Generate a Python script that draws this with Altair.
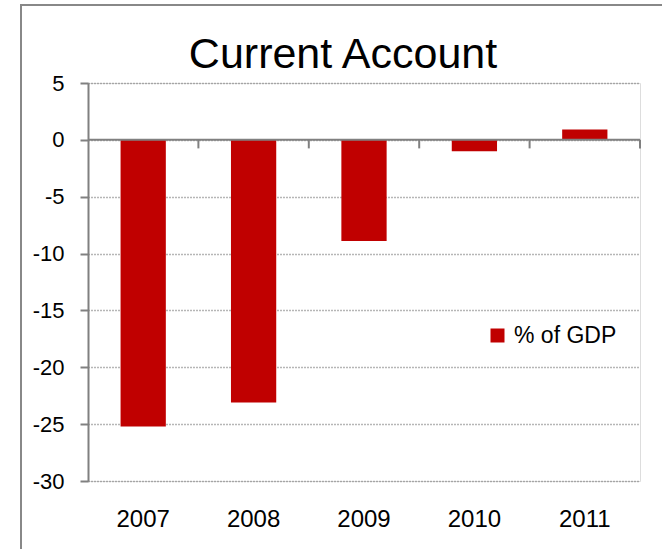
import altair as alt
import pandas as pd

years = ["2007", "2008", "2009", "2010", "2011"]
values = [-25.2, -23.1, -8.9, -1.0, 0.9]
series_name = "% of GDP"
y_ticks = [5, 0, -5, -10, -15, -20, -25, -30]
title_text = "Current Account"

df = pd.DataFrame({"year": years, "value": values, "series": [series_name] * len(years)})
zero_df = pd.DataFrame({"z": [0]})
title_df = pd.DataFrame({"t": [title_text]})

FONT = "Liberation Sans"
W, H = 552, 398
BAND = W / len(years)
GRAY = "#808080"

x_enc = alt.X("year:N", scale=alt.Scale(paddingInner=0, paddingOuter=0),
              axis=alt.Axis(title=None, domain=False, ticks=False, labelPadding=45,
                            labelBaseline="alphabetic", labelFontSize=24, labelFont=FONT,
                            labelColor="#000000", labelAngle=0))
y_scale = alt.Scale(domain=[-30, 5], nice=False, zero=False)

bars = alt.Chart(df).mark_bar(color="#C00000", width=alt.RelativeBandSize(0.41)).encode(
    x=x_enc,
    y=alt.Y("value:Q", scale=y_scale,
            axis=alt.Axis(title=None, values=y_ticks, labelExpr="datum.value + ''",
                          labelFont=FONT, labelFontSize=22, labelColor="#000000",
                          labelPadding=16, tickSize=8, tickColor=GRAY, tickWidth=2,
                          domainColor=GRAY, domainWidth=2,
                          grid=True, gridColor="#6e6e6e", gridDash=[1, 2], gridWidth=1.3)),
    color=alt.Color("series:N", scale=alt.Scale(domain=[series_name], range=["#C00000"]),
                    legend=alt.Legend(title=None, orient="none", legendX=398, legendY=241,
                                      symbolType="square", symbolSize=196, symbolStrokeWidth=0,
                                      labelFont=FONT, labelFontSize=23, labelColor="#000000",
                                      labelOffset=5, padding=0)),
)

zero_line = alt.Chart(zero_df).mark_rule(color=GRAY, strokeWidth=2).encode(
    y=alt.Y("z:Q", scale=y_scale)
)

band_ticks = alt.Chart(df).mark_rule(color=GRAY, strokeWidth=2, xOffset=BAND / 2).encode(
    x=alt.X("year:N"),
    y=alt.datum(0),
    y2=alt.datum(-0.75),
)

frame_left = alt.Chart(zero_df).mark_rule(color="#888888", strokeWidth=2).encode(
    x=alt.value(-67), y=alt.value(-78), y2=alt.value(470)
)
frame_top = alt.Chart(zero_df).mark_rule(color="#888888", strokeWidth=2).encode(
    x=alt.value(-68), x2=alt.value(580), y=alt.value(-78)
)

title = alt.Chart(title_df).mark_text(font=FONT, fontSize=43, color="#000000",
                                      align="center", baseline="alphabetic").encode(
    text="t:N", x=alt.value(255), y=alt.value(-15)
)

chart = alt.layer(bars, zero_line, band_ticks, frame_left, frame_top, title).properties(
    width=W, height=H,
    autosize=alt.AutoSizeParams(type="none"),
    padding={"left": 88, "top": 83, "right": 22, "bottom": 68},
).configure_view(stroke=None).configure(background="#ffffff")

chart.save("out.html", embed_options={"renderer": "svg", "actions": False})
